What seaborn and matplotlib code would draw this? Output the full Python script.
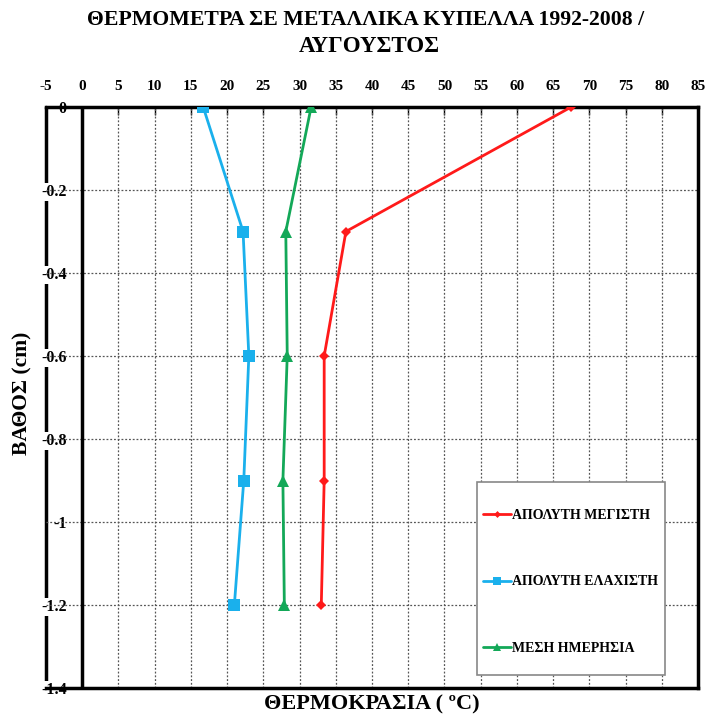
import matplotlib
matplotlib.use("Agg")
import matplotlib.pyplot as plt
import matplotlib.patches as mpatches
import seaborn as sns
import pandas as pd
import numpy as np

depths = [0.0, -0.3, -0.6, -0.9, -1.2]
abs_max = [67.5, 36.4, 33.4, 33.4, 33.0]
abs_min = [16.7, 22.2, 23.0, 22.3, 21.0]
mean_daily = [31.6, 28.1, 28.3, 27.7, 27.9]
series_names = ["ΑΠΟΛΥΤΗ ΜΕΓΙΣΤΗ", "ΑΠΟΛΥΤΗ ΕΛΑΧΙΣΤΗ", "ΜΕΣΗ ΗΜΕΡΗΣΙΑ"]
x_ticks = list(range(-5, 90, 5))
y_ticks = [0, -0.2, -0.4, -0.6, -0.8, -1, -1.2, -1.4]
y_tick_labels = ["0", "-0.2", "-0.4", "-0.6", "-0.8", "-1", "-1.2", "-1.4"]

colors = ["#ff1a1a", "#1ab0ec", "#13a858"]
markers = ["D", "s", "^"]
msizes = [5, 8, 8]

df = pd.concat([
    pd.DataFrame({"temp": v, "depth": depths, "series": n})
    for v, n in zip([abs_max, abs_min, mean_daily], series_names)
])

sns.set_style("white")
plt.rcParams["font.family"] = ["Liberation Serif", "DejaVu Serif"]
plt.rcParams["axes.unicode_minus"] = False
for k in ["text.color", "xtick.color", "ytick.color", "axes.labelcolor"]:
    plt.rcParams[k] = "black"

fig = plt.figure(figsize=(7.08, 7.15), dpi=100)
ax = fig.add_axes([46 / 708, 1 - 688 / 715, (698 - 46) / 708, (688 - 107) / 715])

for i, name in enumerate(series_names):
    sub = df[df["series"] == name]
    sns.lineplot(data=sub, x="temp", y="depth", ax=ax, color=colors[i],
                 marker=markers[i], markersize=msizes[i], markeredgewidth=0,
                 linewidth=2, sort=False, estimator=None, label=name, zorder=5)

ax.set_xlim(-5, 85)
ax.set_ylim(-1.4, 0)
ax.set_xticks(x_ticks)
ax.set_yticks(y_ticks)
ax.set_yticklabels(y_tick_labels)

# grid
for xv in x_ticks[2:-1]:
    ax.axvline(xv, color="#555555", lw=0.9, ls=(0, (1.5, 1.5)), zorder=1)
for yv in y_ticks[1:-1]:
    ax.axhline(yv, color="#555555", lw=0.9, ls=(0, (1.5, 1.5)), zorder=1)

# value axis at x=0
ax.axvline(0, color="black", lw=2.5, zorder=3)
# left border at x=-5
ax.axvline(-5, color="black", lw=2.5, zorder=0.3, clip_on=False)
ax.set_axisbelow(True)

ax.spines["left"].set_visible(False)
for s in ["top", "right", "bottom"]:
    ax.spines[s].set_linewidth(2.5)
    ax.spines[s].set_color("black")

ax.xaxis.tick_top()
ax.xaxis.set_label_position("bottom")
ax.tick_params(axis="x", which="both", direction="in", length=6, width=1,
               pad=10, labelsize=11, top=True, bottom=False)
ax.tick_params(axis="y", direction="in", length=0, pad=-15, labelsize=11.5)
for lab in ax.get_xticklabels():
    lab.set_fontweight("bold")
for lab in ax.get_yticklabels():
    lab.set_fontweight("bold")
    lab.set_horizontalalignment("right")
    lab.set_bbox(dict(facecolor="white", edgecolor="none", pad=1))

ax.set_xlabel("ΘΕΡΜΟΚΡΑΣΙΑ ( ºC)", fontsize=16, fontweight="bold", labelpad=5)
ax.set_ylabel("")
fig.text(22 / 708, 1 - 393 / 715, "ΒΑΘΟΣ (cm)", rotation=90, fontsize=15.5,
         fontweight="bold", ha="center", va="center")

fig.text(366 / 708, 1 - 20 / 715, "ΘΕΡΜΟΜΕΤΡΑ ΣΕ ΜΕΤΑΛΛΙΚΑ ΚΥΠΕΛΛΑ 1992-2008 /",
         fontsize=15.7, fontweight="bold", ha="center", va="center")
fig.text(369 / 708, 1 - 46 / 715, "ΑΥΓΟΥΣΤΟΣ", fontsize=16.5, fontweight="bold",
         ha="center", va="center")

# legend frame
frame = mpatches.Rectangle((477 / 708, 1 - 675 / 715), (665 - 477) / 708,
                           (675 - 482) / 715, transform=fig.transFigure,
                           facecolor="white", edgecolor="#888888", lw=1.2,
                           zorder=8, clip_on=False)
ax.add_patch(frame)

leg = ax.legend(loc="upper left", bbox_to_anchor=(483 / 708, 1 - 509 / 715),
                bbox_transform=fig.transFigure, frameon=False,
                prop={"family": "Liberation Serif", "size": 10, "weight": "bold"},
                handlelength=2.0, handletextpad=0.1, labelspacing=3.85,
                borderpad=0, borderaxespad=0, markerscale=0.7)
leg.set_zorder(20)

fig.savefig("out.png", dpi=100)
